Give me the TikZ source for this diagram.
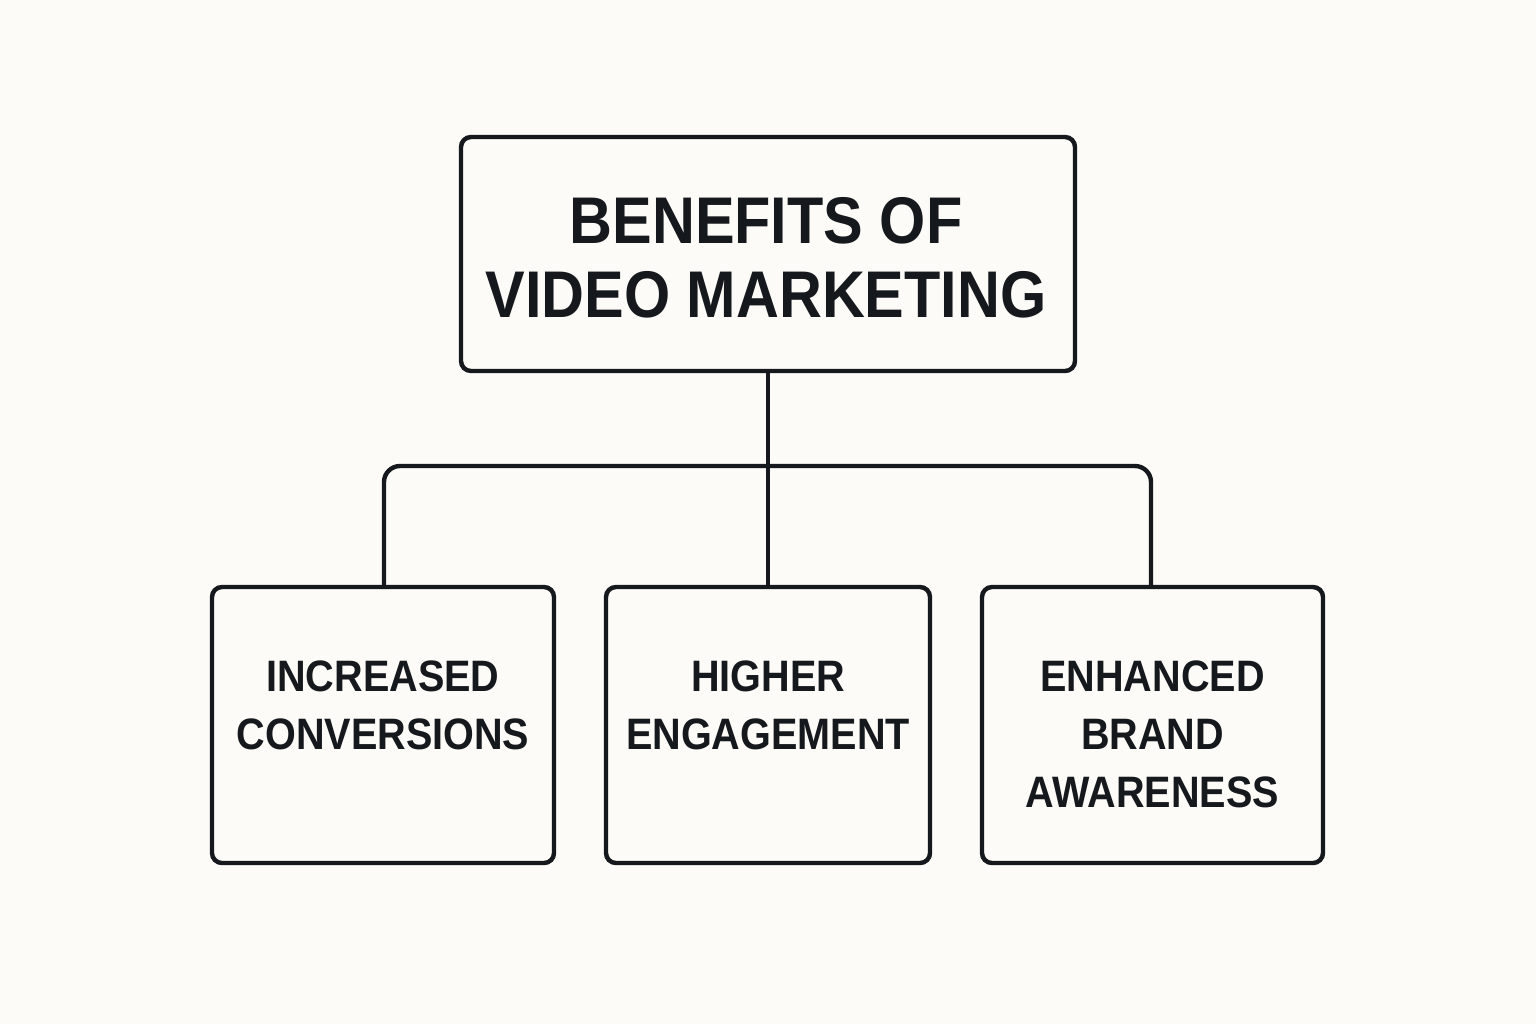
\documentclass[tikz,border=0pt]{standalone}
\usepackage{fontspec}
\setmainfont{Liberation Sans}[FakeStretch=0.9]
\definecolor{bg}{HTML}{FCFBF7}
\definecolor{ink}{HTML}{15181C}
\begin{document}
\begin{tikzpicture}[x=0.5pt,y=-0.5pt,
  boxstyle/.style={draw=ink,line width=2.2pt,rounded corners=5pt,fill=bg,inner sep=0pt},
  titletext/.style={text=ink,font=\fontsize{33}{37}\selectfont\bfseries,align=center,inner sep=0pt},
  itemtext/.style={text=ink,font=\fontsize{22}{29}\selectfont\bfseries,align=center,inner sep=0pt,anchor=north},
  link/.style={draw=ink,line width=2.2pt,rounded corners=8pt}]
\fill[bg] (0,0) rectangle (1536,1024);
\useasboundingbox (0,0) rectangle (1536,1024);
% connectors
\coordinate (jl) at (384,466);
\coordinate (jr) at (1151,466);
% boxes
\node[boxstyle,minimum width=307pt,minimum height=117pt] (top) at (768,254) {};
\node[boxstyle,minimum width=171pt,minimum height=138pt] (b1) at (383,725) {};
\node[boxstyle,minimum width=162pt,minimum height=138pt] (b2) at (768,725) {};
\node[boxstyle,minimum width=170.5pt,minimum height=138pt] (b3) at (1152.5,725) {};
\draw[link] (top.south) -- (b2.north);
\draw[link] (b1.north -| jl) -- (jl) -- (jr) -- (b3.north -| jr);
% redraw box borders over connector ends
\node[titletext] (ttl) at (766,258) {BENEFITS OF\\VIDEO MARKETING};
\node[itemtext] (t1) at (383,660) {INCREASED\\CONVERSIONS};
\node[itemtext] (t2) at (768,660) {HIGHER\\ENGAGEMENT};
\node[itemtext] (t3) at (1152.5,660) {ENHANCED\\BRAND\\AWARENESS};
\end{tikzpicture}
\end{document}
